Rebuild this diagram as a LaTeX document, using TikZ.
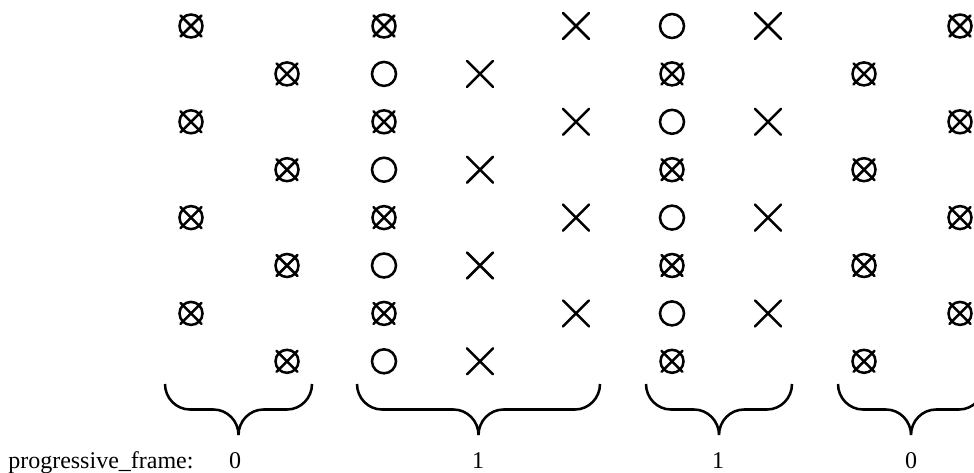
\documentclass[tikz,border=0pt]{standalone}
\usepackage{fontspec}
\setmainfont{Liberation Serif}
\begin{document}
\begin{tikzpicture}[x=0.75pt,y=-0.75pt,
  mk/.style={line width=1.9pt,line cap=round},
  brc/.style={line width=1.9pt},
  lbl/.style={inner sep=0pt,anchor=base,font=\fontsize{18}{20}\selectfont},
  oxmark/.pic={\draw[mk] (0,0) circle[radius=11.5];
               \draw[mk] (-10.5,-10.5) -- (10.5,10.5) (-10.5,10.5) -- (10.5,-10.5);},
  omark/.pic={\draw[mk] (0,0) circle[radius=12];},
  xmark/.pic={\draw[mk] (-13,-13) -- (13,13) (-13,13) -- (13,-13);}
]
\useasboundingbox (0,0) rectangle (974,472);
% rows
\def\rowy#1{26+47.9*(#1-1)}
\foreach \r in {1,3,5,7}{
  \pic at (191,{\rowy{\r}}) {oxmark};
  \pic at (384,{\rowy{\r}}) {oxmark};
  \pic at (576,{\rowy{\r}}) {xmark};
  \pic at (672,{\rowy{\r}}) {omark};
  \pic at (768,{\rowy{\r}}) {xmark};
  \pic at (960,{\rowy{\r}}) {oxmark};
}
\foreach \r in {2,4,6,8}{
  \pic at (287,{\rowy{\r}}) {oxmark};
  \pic at (384,{\rowy{\r}}) {omark};
  \pic at (480,{\rowy{\r}}) {xmark};
  \pic at (672,{\rowy{\r}}) {oxmark};
  \pic at (864,{\rowy{\r}}) {oxmark};
}
% braces
\foreach \a/\b in {165/312,357/600,646/792,838/984}{
  \pgfmathsetmacro\m{(\a+\b)/2}
  \draw[brc] (\a,384) .. controls (\a,398) and (\a+11.2,409.5) .. (\a+25,409.5)
    -- (\m-25,409.5) .. controls (\m-11.2,409.5) and (\m,421) .. (\m,435)
    .. controls (\m,421) and (\m+11.2,409.5) .. (\m+25,409.5)
    -- (\b-25,409.5) .. controls (\b-11.2,409.5) and (\b,398) .. (\b,384);
}
\node[lbl,anchor=base west] (pf) at (8,468) {progressive\_frame:};
\node[lbl] (v1) at (235,468) {0};
\node[lbl] (v2) at (478,468) {1};
\node[lbl] (v3) at (718,468) {1};
\node[lbl] (v4) at (911,468) {0};
\end{tikzpicture}
\end{document}
